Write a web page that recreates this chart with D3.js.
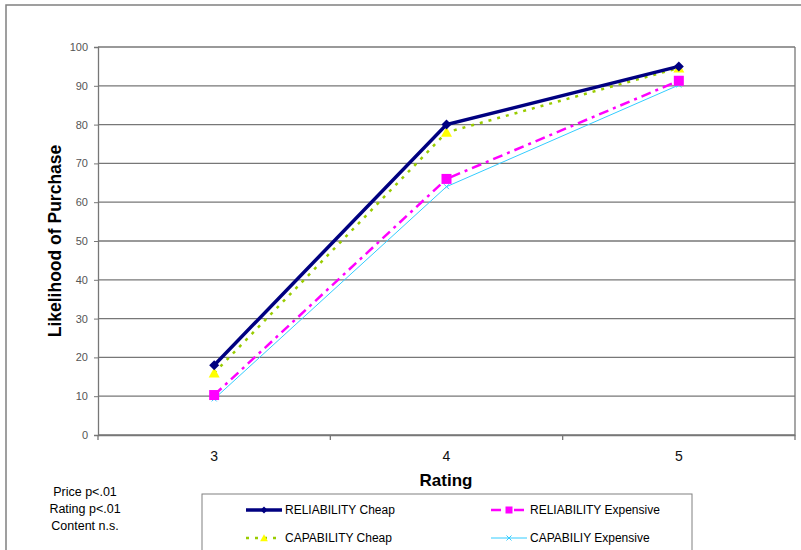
<!DOCTYPE html>
<html><head><meta charset="utf-8">
<script src="https://cdn.jsdelivr.net/npm/d3@7"></script>
<style>body{margin:0;background:#fff}svg{display:block;font-family:Arial,"Liberation Sans",sans-serif}</style>
</head><body>
<svg id="c" width="801" height="550"></svg>
<script>
const categories = ["3","4","5"];
const relCheap = [18, 80, 95];
const capCheap = [16, 78, 94.6];
const relExp = [10.3, 66, 91.3];
const capExp = [9.3, 64, 90.2];
const yTicks = [0,10,20,30,40,50,60,70,80,90,100];
const seriesNames = ["RELIABILITY Cheap","RELIABILITY Expensive","CAPABILITY Cheap","CAPABILIY Expensive"];
const notes = ["Price p<.01","Rating p<.01","Content n.s."];

const svg = d3.select("#c");
const L=98, R=795, T=47, B=435;
svg.append("rect").attr("x",6).attr("y",5).attr("width",820).attr("height",600)
  .attr("fill","none").attr("stroke","#808080").attr("stroke-width",1.5);

const x = d3.scaleBand().domain(categories).range([L,R]);
const y = d3.scaleLinear().domain([0,100]).range([B,T]);

svg.append("g").selectAll("line").data(yTicks).join("line")
  .attr("x1",L).attr("x2",R).attr("y1",d=>y(d)).attr("y2",d=>y(d))
  .attr("stroke","#777").attr("stroke-width",1.3);
svg.append("line").attr("x1",R).attr("x2",R).attr("y1",T).attr("y2",B).attr("stroke","#777").attr("stroke-width",1.3);

const ya = svg.append("g").attr("transform",`translate(${L},0)`)
  .call(d3.axisLeft(y).tickValues(yTicks).tickSize(4).tickPadding(6));
ya.select(".domain").attr("stroke","#777").attr("stroke-width",1.3);
ya.selectAll(".tick line").attr("stroke","#777");
ya.selectAll("text").attr("font-size",11).attr("fill","#555").attr("font-family","Arial,'Liberation Sans',sans-serif");

const xa = svg.append("g").attr("transform",`translate(0,${B})`)
  .call(d3.axisBottom(x).tickSize(0).tickPadding(16));
xa.select(".domain").attr("stroke","#777").attr("stroke-width",1.3);
xa.selectAll("text").attr("font-size",14).attr("fill","#111").attr("font-family","Arial,'Liberation Sans',sans-serif");
const bounds = categories.map(c=>x(c)).concat([R]);
svg.append("g").selectAll("line").data(bounds).join("line")
  .attr("x1",d=>d).attr("x2",d=>d).attr("y1",B).attr("y2",B+5).attr("stroke","#777").attr("stroke-width",1.3);

svg.append("text").attr("transform",`translate(61,${(T+B)/2}) rotate(-90)`)
  .attr("text-anchor","middle").attr("font-weight","bold").attr("font-size",17.5).text("Likelihood of Purchase");
svg.append("text").attr("x",446).attr("y",486).attr("text-anchor","middle")
  .attr("font-weight","bold").attr("font-size",17).text("Rating");

const cx = c => x(c)+x.bandwidth()/2;
const series = [
  {name:seriesNames[0], vals:relCheap, color:"#000080", w:3.5, dash:null, marker:"diamond", mfill:"#000080"},
  {name:seriesNames[1], vals:relExp, color:"#ff00ff", w:2.5, dash:"10,5,3,5", marker:"square", mfill:"#ff00ff"},
  {name:seriesNames[2], vals:capCheap, color:"#99cc00", w:2.5, dash:"3,6", marker:"triangle", mfill:"#ffff00"},
  {name:seriesNames[3], vals:capExp, color:"#33ccff", w:1, dash:null, marker:"x", mfill:"#33ccff"}
];
const line = d3.line().x((d,i)=>cx(categories[i])).y(d=>y(d));

function marker(g, type, px, py, s, k){
  k = k||1;
  if(type==="diamond") g.append("path").attr("d",`M${px},${py-5*k}L${px+5*k},${py}L${px},${py+5*k}L${px-5*k},${py}Z`).attr("fill",s.mfill);
  else if(type==="square") g.append("rect").attr("x",px-5*k).attr("y",py-5*k).attr("width",10*k).attr("height",10*k).attr("fill",s.mfill);
  else if(type==="triangle") g.append("path").attr("d",`M${px},${py-5.5*k}L${px+5.5*k},${py+4.5*k}L${px-5.5*k},${py+4.5*k}Z`).attr("fill",s.mfill);
  else g.append("path").attr("d",`M${px-2.5},${py-2.5}L${px+2.5},${py+2.5}M${px-2.5},${py+2.5}L${px+2.5},${py-2.5}`).attr("stroke",s.color).attr("stroke-width",1);
}

[3,1,2,0].forEach(i=>{
  const s=series[i];
  svg.append("path").datum(s.vals).attr("d",line).attr("fill","none")
    .attr("stroke",s.color).attr("stroke-width",s.w).attr("stroke-dasharray",s.dash);
});
[3,1,2,0].forEach(i=>{
  const s=series[i]; const g=svg.append("g");
  s.vals.forEach((v,j)=>marker(g,s.marker,cx(categories[j]),y(v),s));
});

svg.append("g").selectAll("text").data(notes).join("text")
  .attr("x",85).attr("y",(d,i)=>496+i*17).attr("text-anchor","middle").attr("font-size",12.5).text(d=>d);

svg.append("rect").attr("x",202).attr("y",494).attr("width",490).attr("height",80)
  .attr("fill","#fff").attr("stroke","#808080").attr("stroke-width",1);
const lpos = [[246,510],[491,510],[246,538],[491,538]];
series.forEach((s,i)=>{
  const [lx,ly]=lpos[i]; const g=svg.append("g");
  g.append("line").attr("x1",lx).attr("x2",lx+36).attr("y1",ly).attr("y2",ly)
    .attr("stroke",s.color).attr("stroke-width",s.w).attr("stroke-dasharray",s.dash);
  marker(g,s.marker,lx+18,ly,s,0.7);
  g.append("text").attr("x",lx+39).attr("y",ly+4).attr("font-size",12).text(s.name);
});
</script>
</body></html>
